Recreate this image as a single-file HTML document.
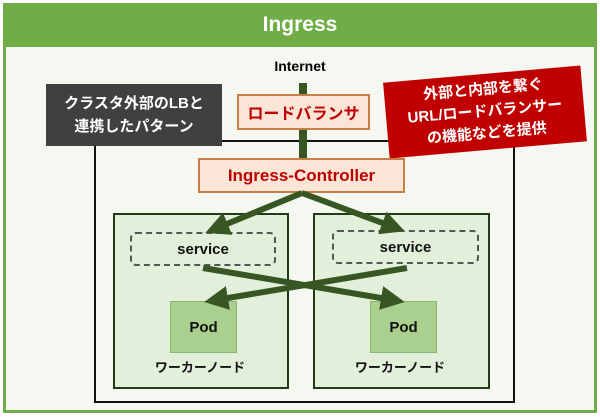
<!DOCTYPE html>
<html><head><meta charset="utf-8"><style>
body{margin:0;width:600px;height:418px;background:#fff;overflow:hidden;font-family:"Liberation Sans","Noto Sans CJK JP",sans-serif}
.a{position:absolute;box-sizing:border-box}
.c{display:flex;align-items:center;justify-content:center;text-align:center;font-weight:bold;white-space:nowrap}
</style></head><body>
<div class="a" style="left:3px;top:3px;width:594px;height:410px;border:3px solid #70ad47;background:#f4f8f1"></div>
<div class="a c" style="left:3px;top:3px;width:594px;height:44px;background:#70ad47;color:#fff;font-size:21px">Ingress</div>
<div class="a c" style="left:240px;top:55px;width:120px;height:22px;font-size:14px;color:#000">Internet</div>
<div class="a" style="left:94px;top:140px;width:421px;height:263px;border:2px solid #111"></div>
<div class="a" style="left:299px;top:83px;width:8px;height:76px;background:#375623"></div>
<div class="a c" style="left:46px;top:84px;width:176px;height:62px;background:#404040;color:#fff;font-size:15px;line-height:23px">クラスタ外部のLBと<br>連携したパターン</div>
<div class="a c" style="left:237px;top:94px;width:133px;height:36px;background:#fbe5d6;border:2px solid #c5804a;color:#c00000;font-size:16px">ロードバランサ</div>
<div class="a c" style="left:386px;top:74px;width:198px;height:76px;background:#c00000;color:#fff;font-size:15px;line-height:22px;transform:rotate(-5deg)">外部と内部を繋ぐ<br>URL/ロードバランサー<br>の機能などを提供</div>
<div class="a c" style="left:198px;top:158px;width:207px;height:35px;background:#fbe5d6;border:2px solid #c5804a;color:#c00000;font-size:17px">Ingress-Controller</div>
<div class="a" style="left:113px;top:213px;width:176px;height:176px;background:#e2efda;border:2px solid #213b16"></div>
<div class="a" style="left:313px;top:213px;width:177px;height:176px;background:#e2efda;border:2px solid #213b16"></div>
<div class="a c" style="left:130px;top:232px;width:146px;height:34px;border:2px dashed #555;border-radius:6px;font-size:15px;color:#111">service</div>
<div class="a c" style="left:332px;top:230px;width:147px;height:34px;border:2px dashed #555;border-radius:6px;font-size:15px;color:#111">service</div>
<div class="a c" style="left:170px;top:301px;width:67px;height:52px;background:#a9d08e;border:1px solid #8ab56c;font-size:15px;color:#111">Pod</div>
<div class="a c" style="left:370px;top:301px;width:67px;height:52px;background:#a9d08e;border:1px solid #8ab56c;font-size:15px;color:#111">Pod</div>
<div class="a c" style="left:140px;top:356px;width:120px;height:20px;font-size:13px;color:#111">ワーカーノード</div>
<div class="a c" style="left:340px;top:356px;width:120px;height:20px;font-size:13px;color:#111">ワーカーノード</div>
<svg class="a" style="left:0;top:0" width="600" height="418">
<defs><marker id="m" markerWidth="4" markerHeight="4" refX="1" refY="2" orient="auto" markerUnits="strokeWidth"><path d="M0,0 L4,2 L0,4 z" fill="#375623"/></marker></defs>
<g stroke="#375623" stroke-width="6" marker-end="url(#m)">
<line x1="302" y1="193" x2="222" y2="226"/>
<line x1="302" y1="193" x2="388" y2="225"/>
<line x1="203" y1="268" x2="387" y2="299"/>
<line x1="407" y1="268" x2="222" y2="299"/>
</g></svg>
</body></html>
